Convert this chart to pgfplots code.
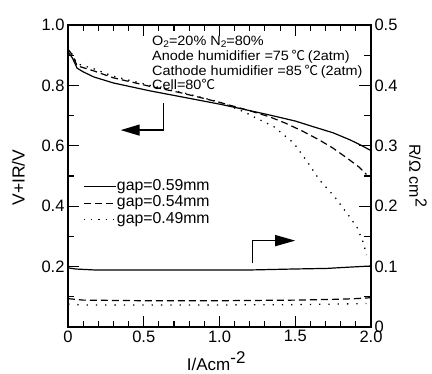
\documentclass[border=0pt]{standalone}
\usepackage{fontspec}
\setmainfont{Liberation Sans}
\newfontfamily\annot[FakeStretch=1.07]{Liberation Sans}
\newfontfamily\cjk{Noto Sans CJK SC}
\usepackage{pgfplots}
\pgfplotsset{compat=1.18}
\usetikzlibrary{arrows.meta}
\newcommand{\degC}{\hspace{0.2em}{\cjk ℃}\hspace{0.2em}}

\begin{document}
\begin{tikzpicture}
\useasboundingbox (-68pt,-47pt) rectangle (364pt,327pt);
\begin{axis}[
  at={(0,0)}, anchor=south west,
  scale only axis, width=303pt, height=302pt,
  xmin=0, xmax=2, ymin=0, ymax=1,
  xtick={0,0.5,1,1.5,2}, xticklabels={0,0.5,1.0,1.5,2.0},
  minor x tick num=4,
  ytick={0.2,0.4,0.6,0.8,1.0}, yticklabels={0.2,0.4,0.6,0.8,1.0},
  minor ytick={0.1,0.3,0.5,0.7,0.9},
  ytick pos=left,
  tick align=inside,
  major tick length=11pt, minor tick length=6pt,
  tick style={line width=1.1pt, black},
  axis line style={line width=1.4pt},
  /pgf/number format/assume math mode=true,
  ticklabel style={font=\fontsize{16.5}{18}\selectfont},
  xlabel={I/Acm$^{\textrm{-2}}$},
  xlabel style={at={(axis description cs:0.49,-0.143)}, anchor=base, font=\fontsize{17}{19}\selectfont},
  ylabel={V+IR/V},
  ylabel style={at={(axis description cs:-0.1634,0.495)}, anchor=center, font=\fontsize{17.5}{19}\selectfont},
  legend style={draw=none, fill=none, at={(rel axis cs:0.0495,0.4917)}, anchor=north west,
    inner sep=0pt, row sep=0pt,
    nodes={inner sep=0.5pt, text height=11.3pt, text depth=4pt, font=\fontsize{15.8}{17}\selectfont}},
  legend cell align=left,
  legend image code/.code={\draw[#1] (0pt,0pt) -- (32pt,0pt);},
]
\addplot[black, line width=1.2pt] coordinates {
(0,0.912) (0.03,0.89) (0.06,0.857) (0.1,0.845) (0.17,0.828) (0.3,0.808) (0.54,0.782)
(0.75,0.762) (1.0,0.738) (1.15,0.722) (1.33,0.702) (1.5,0.682) (1.62,0.663)
(1.75,0.643) (1.86,0.620) (1.93,0.603) (2.0,0.584)};
\addlegendentry{gap=0.59mm}
\addplot[black, line width=1.2pt, dash pattern=on 7pt off 4pt] coordinates {
(0,0.92) (0.03,0.9) (0.06,0.865) (0.17,0.848) (0.3,0.825) (0.54,0.797) (0.75,0.775)
(1.0,0.744) (1.1,0.73) (1.2,0.716) (1.33,0.696) (1.44,0.674) (1.55,0.648)
(1.66,0.619) (1.75,0.592) (1.84,0.56) (1.92,0.53) (1.97,0.505)};
\addlegendentry{gap=0.54mm}
\addplot[black, line width=1.3pt, dash pattern=on 1.3pt off 6pt] coordinates {
(0,0.928) (0.03,0.9) (0.06,0.872) (0.17,0.855) (0.3,0.83) (0.54,0.80) (0.75,0.777)
(1.0,0.745) (1.16,0.713) (1.25,0.69) (1.36,0.663) (1.49,0.609) (1.58,0.547)
(1.66,0.487) (1.76,0.431) (1.85,0.371) (1.91,0.328) (1.95,0.278) (1.97,0.238)};
\addlegendentry{gap=0.49mm}
\node[anchor=base west, inner sep=0pt, font=\annot\fontsize{13.5}{15}\selectfont] at (axis cs:0.554,0.932) {O{\fontsize{9.5}{10}\selectfont\raisebox{-0.3ex}{2}}=20\% N{\fontsize{9.5}{10}\selectfont\raisebox{-0.3ex}{2}}=80\%};
\node[anchor=base west, inner sep=0pt, font=\annot\fontsize{13.5}{15}\selectfont] at (axis cs:0.554,0.884) {Anode humidifier =75\degC(2atm)};
\node[anchor=base west, inner sep=0pt, font=\annot\fontsize{13.5}{15}\selectfont] at (axis cs:0.554,0.834) {Cathode humidifier =85\degC(2atm)};
\node[anchor=base west, inner sep=0pt, font=\annot\fontsize{13.5}{15}\selectfont] at (axis cs:0.554,0.785) {Cell=80{\cjk ℃}};
\draw[black, line width=1.3pt, -{Triangle[length=19pt,width=11pt]}] (axis cs:0.629,0.741) -- (axis cs:0.629,0.652) -- (axis cs:0.348,0.652);
\draw[black, line width=1.3pt, -{Triangle[length=20pt,width=11pt]}] (axis cs:1.22,0.211) -- (axis cs:1.22,0.286) -- (axis cs:1.50,0.286);
\end{axis}
\begin{axis}[
  at={(0,0)}, anchor=south west,
  scale only axis, width=303pt, height=302pt,
  xmin=0, xmax=2, ymin=0, ymax=0.5,
  axis y line*=right, axis x line=none,
  ytick={0,0.1,0.2,0.3,0.4,0.5}, yticklabels={0,0.1,0.2,0.3,0.4,0.5},
  minor ytick={0.05,0.15,0.25,0.35,0.45},
  tick align=inside,
  major tick length=12pt, minor tick length=7pt,
  tick style={line width=1.1pt, black},
  axis line style={line width=1.4pt},
  /pgf/number format/assume math mode=true,
  ticklabel style={font=\fontsize{16.5}{18}\selectfont},
  ylabel={R/Ω cm$^{\textrm{2}}$},
  ylabel style={at={(axis description cs:1.155,0.5)}, anchor=center, rotate=180, font=\fontsize{16}{18}\selectfont},
]
\addplot[black, line width=1.2pt] coordinates {
(0,0.098) (0.05,0.096) (0.17,0.0945) (0.5,0.0945) (1.0,0.0945) (1.22,0.0945) (1.49,0.096) (1.71,0.097) (1.85,0.099) (2.0,0.101)};
\addplot[black, line width=1.2pt, dash pattern=on 7pt off 4pt] coordinates {
(0,0.047) (0.1,0.0445) (0.5,0.0435) (1.0,0.0435) (1.5,0.0445) (1.8,0.046) (1.9,0.047) (2.0,0.0485)};
\addplot[black, line width=1.3pt, dash pattern=on 1.3pt off 8pt] coordinates {
(0,0.038) (0.1,0.0365) (1.0,0.0365) (1.5,0.037) (1.8,0.038) (1.97,0.039)};
\end{axis}
\end{tikzpicture}
\end{document}
